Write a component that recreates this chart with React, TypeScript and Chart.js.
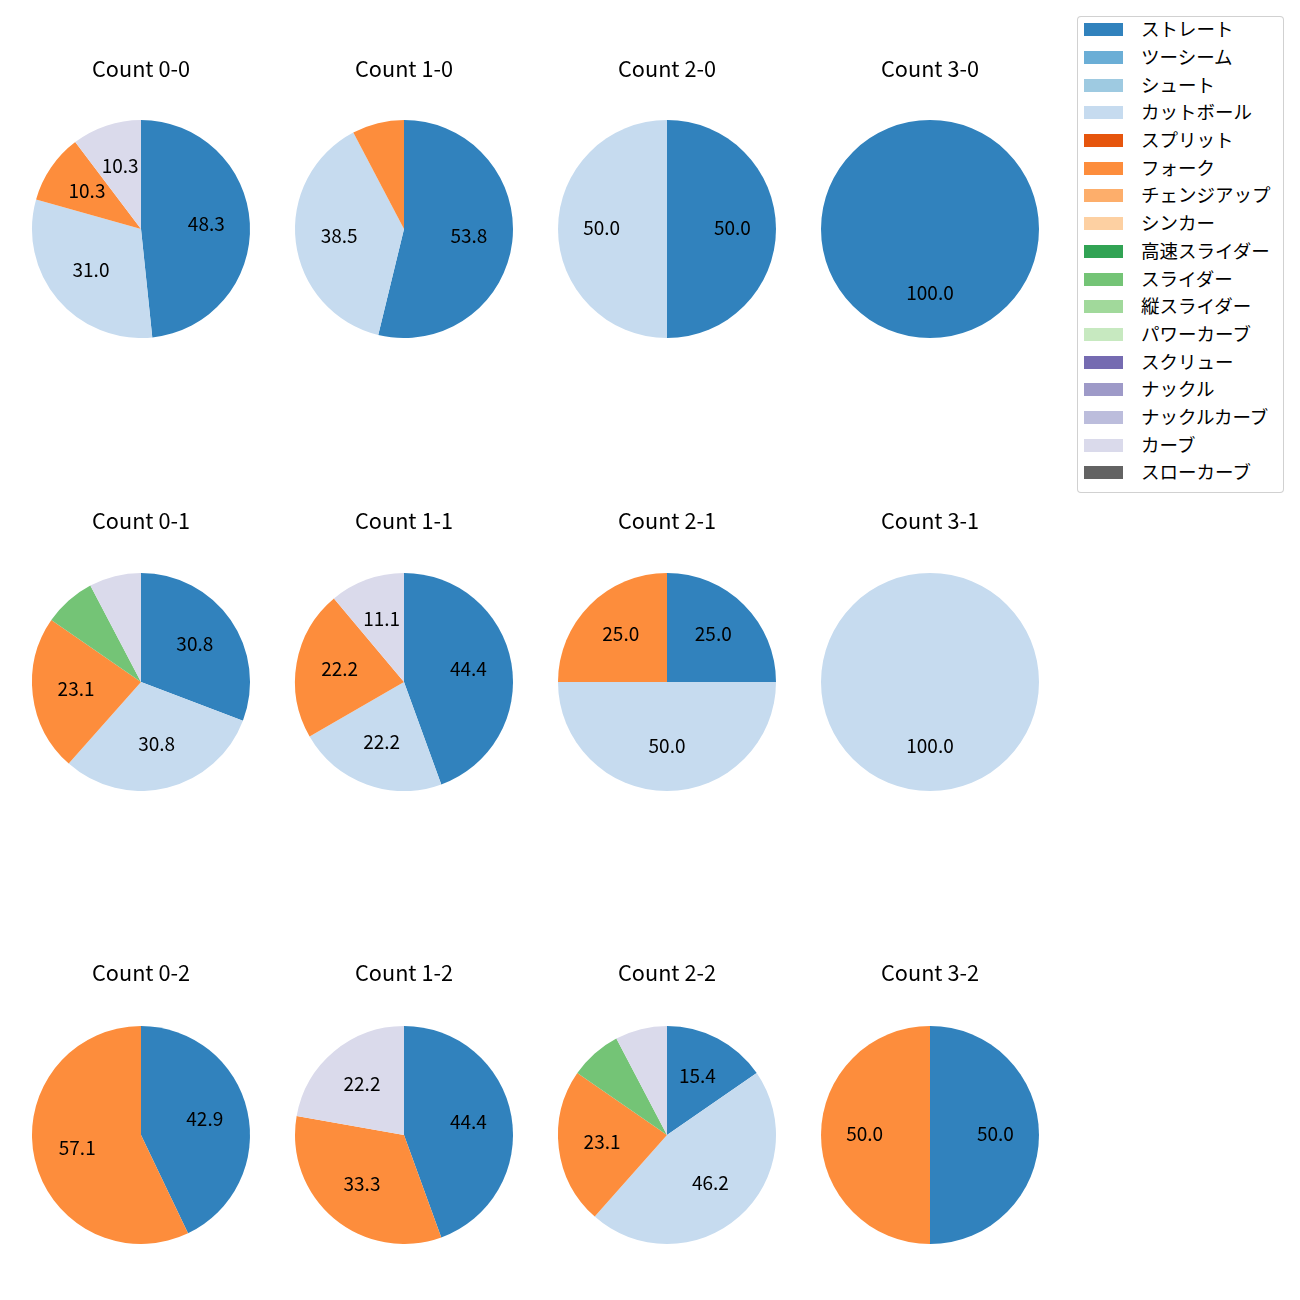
import React, { useEffect, useRef } from "react";
import { Chart, registerables } from "chart.js";

Chart.register(...registerables);

const PITCH_TYPES = [
  "ストレート", "ツーシーム", "シュート", "カットボール", "スプリット", "フォーク",
  "チェンジアップ", "シンカー", "高速スライダー", "スライダー", "縦スライダー",
  "パワーカーブ", "スクリュー", "ナックル", "ナックルカーブ", "カーブ", "スローカーブ",
];

const COLORS = [
  "#3182bd", "#6baed6", "#9ecae1", "#c6dbef", "#e6550d", "#fd8d3c", "#fdae6b",
  "#fdd0a2", "#31a354", "#74c476", "#a1d99b", "#c7e9c0", "#756bb1", "#9e9ac8",
  "#bcbddc", "#dadaeb", "#636363",
];

const COUNT_TITLES = [
  "Count 0-0", "Count 1-0", "Count 2-0", "Count 3-0",
  "Count 0-1", "Count 1-1", "Count 2-1", "Count 3-1",
  "Count 0-2", "Count 1-2", "Count 2-2", "Count 3-2",
];

// percentages per pitch type (order of PITCH_TYPES)
const C00 = [48.3, 0, 0, 31.0, 0, 10.3, 0, 0, 0, 0, 0, 0, 0, 0, 0, 10.3, 0];
const C10 = [53.8, 0, 0, 38.5, 0, 7.7, 0, 0, 0, 0, 0, 0, 0, 0, 0, 0, 0];
const C20 = [50.0, 0, 0, 50.0, 0, 0, 0, 0, 0, 0, 0, 0, 0, 0, 0, 0, 0];
const C30 = [100.0, 0, 0, 0, 0, 0, 0, 0, 0, 0, 0, 0, 0, 0, 0, 0, 0];
const C01 = [30.8, 0, 0, 30.8, 0, 23.1, 0, 0, 0, 7.7, 0, 0, 0, 0, 0, 7.7, 0];
const C11 = [44.4, 0, 0, 22.2, 0, 22.2, 0, 0, 0, 0, 0, 0, 0, 0, 0, 11.1, 0];
const C21 = [25.0, 0, 0, 50.0, 0, 25.0, 0, 0, 0, 0, 0, 0, 0, 0, 0, 0, 0];
const C31 = [0, 0, 0, 100.0, 0, 0, 0, 0, 0, 0, 0, 0, 0, 0, 0, 0, 0];
const C02 = [42.9, 0, 0, 0, 0, 57.1, 0, 0, 0, 0, 0, 0, 0, 0, 0, 0, 0];
const C12 = [44.4, 0, 0, 0, 0, 33.3, 0, 0, 0, 0, 0, 0, 0, 0, 0, 22.2, 0];
const C22 = [15.4, 0, 0, 46.2, 0, 23.1, 0, 0, 0, 7.7, 0, 0, 0, 0, 0, 7.7, 0];
const C32 = [50.0, 0, 0, 0, 0, 50.0, 0, 0, 0, 0, 0, 0, 0, 0, 0, 0, 0];

const COUNT_DATA = [C00, C10, C20, C30, C01, C11, C21, C31, C02, C12, C22, C32];

const FONT = "'Noto Sans CJK JP', 'Noto Sans', sans-serif";
const COL_CENTERS = [141, 404, 667, 930];
const ROW_TITLE_Y = [69, 521, 973];
const ROW_CENTER_Y = [229, 682, 1135];
const RADIUS = 109;
const TITLE_SIZE = 21.7;
const TITLE_LINE = 26;
const LABEL_SIZE = 19;
const LEGEND_SIZE = 18.5;

const pctLabels = {
  id: "pctLabels",
  afterDatasetsDraw(chart: any) {
    const ctx = chart.ctx;
    const meta = chart.getDatasetMeta(0);
    const data = chart.data.datasets[0].data as number[];
    ctx.save();
    ctx.font = `${LABEL_SIZE}px ${FONT}`;
    ctx.fillStyle = "#000";
    ctx.textAlign = "center";
    ctx.textBaseline = "middle";
    meta.data.forEach((arc: any, i: number) => {
      const v = data[i];
      if (!v || v < 10) return;
      const p = arc.getProps(["x", "y", "startAngle", "endAngle", "outerRadius"], true);
      const mid = (p.startAngle + p.endAngle) / 2;
      const r = p.outerRadius * 0.6;
      ctx.fillText(v.toFixed(1), p.x + Math.cos(mid) * r, p.y + Math.sin(mid) * r - 1.5);
    });
    ctx.restore();
  },
};

function Pie({ idx }: { idx: number }) {
  const ref = useRef<HTMLCanvasElement>(null);
  const row = Math.floor(idx / 4);
  const col = idx % 4;
  const top = ROW_TITLE_Y[row] - TITLE_LINE / 2;
  const pieTop = ROW_CENTER_Y[row] - RADIUS;
  const padBottom = pieTop - (top + TITLE_LINE);
  const height = TITLE_LINE + padBottom + RADIUS * 2;
  const extra = 30;
  const width = RADIUS * 2 + extra * 2;
  useEffect(() => {
    const chart = new Chart(ref.current!, {
      type: "pie",
      data: {
        labels: PITCH_TYPES,
        datasets: [
          {
            data: COUNT_DATA[idx],
            backgroundColor: COLORS,
            borderWidth: 0,
            hoverOffset: 0,
          },
        ],
      },
      options: {
        animation: false,
        responsive: false,
        events: [],
        layout: { padding: { left: extra, right: extra, top: 0, bottom: 0 } },
        plugins: {
          legend: { display: false },
          tooltip: { enabled: false },
          title: {
            display: true,
            text: COUNT_TITLES[idx],
            color: "#000",
            font: { family: FONT, size: TITLE_SIZE, weight: "normal", lineHeight: TITLE_LINE / TITLE_SIZE },
            padding: { top: 0, bottom: padBottom },
          },
        },
      },
      plugins: [pctLabels],
    });
    return () => chart.destroy();
  }, [idx]);
  return (
    <canvas
      ref={ref}
      width={width}
      height={height}
      style={{
        position: "absolute",
        left: COL_CENTERS[col] - RADIUS - extra,
        top,
        width,
        height,
      }}
    />
  );
}

function Legend() {
  return (
    <div
      style={{
        position: "absolute",
        left: 1077,
        top: 16,
        width: 205,
        height: 475,
        border: "1px solid rgba(204,204,204,0.9)",
        borderRadius: 4,
        background: "#fff",
        fontFamily: FONT,
        fontSize: LEGEND_SIZE,
        color: "#000",
      }}
    >
      {PITCH_TYPES.map((name, i) => {
        const cy = 12.7 + i * 27.7;
        return (
          <React.Fragment key={name}>
            <div
              style={{
                position: "absolute",
                left: 6,
                top: cy - 6.5,
                width: 39,
                height: 13,
                background: COLORS[i],
              }}
            />
            <div
              style={{
                position: "absolute",
                left: 63,
                top: cy - 13.5,
                height: 24,
                lineHeight: "24px",
                whiteSpace: "nowrap",
              }}
            >
              {name}
            </div>
          </React.Fragment>
        );
      })}
    </div>
  );
}

export default function App() {
  return (
    <div style={{ position: "absolute", left: 0, top: 0, width: 1300, height: 1300, background: "#fff" }}>
      {COUNT_TITLES.map((_, i) => (
        <Pie key={i} idx={i} />
      ))}
      <Legend />
    </div>
  );
}
